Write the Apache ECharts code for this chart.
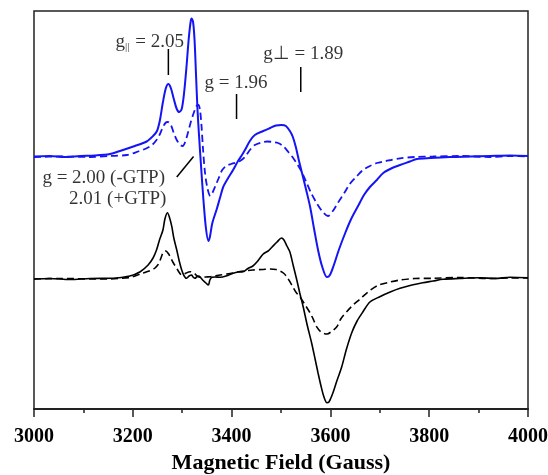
<!DOCTYPE html>
<html>
<head>
<meta charset="utf-8">
<script src="https://cdn.jsdelivr.net/npm/echarts@6/dist/echarts.min.js"></script>
<style>html,body{margin:0;padding:0;background:#fff;}#c{width:548px;height:475px;}</style>
</head>
<body>
<div id="c"></div>
<script>
// Field values (Gauss) and intensities relative to each trace's baseline (a.u.)
const blueSolidField = [3000,3032,3063,3093,3123,3154,3174,3204,3228,3241,3249,3255,3261,3267,3272,3277,3283,3289,3294,3299,3304,3309,3313,3317,3319,3322,3325,3328,3331,3334,3338,3343,3348,3353,3356,3361,3370,3377,3383,3393,3403,3413,3421,3427,3437,3447,3464,3478,3490,3501,3510,3518,3524,3530,3536,3542,3551,3559,3567,3575,3583,3593,3599,3607,3617,3630,3642,3656,3668,3680,3694,3707,3725,3741,3761,3775,3802,3842,3883,3923,3964,4000];
const blueSolidValue = [0,0.5,-0.5,0.5,1,2.5,5.5,10.5,15,20.5,25.5,36.5,54.5,68.5,72.5,68.5,57.5,47.5,44.5,47.5,64.5,91.5,116.5,134.5,138,134.5,116.5,81.5,46.5,21.5,-8.5,-43.5,-71.5,-84.5,-80.5,-66.5,-52.5,-40.5,-30.5,-21.5,-13.5,-4.5,1.5,6.5,15.5,21.5,25.5,28.5,31,31.5,30.5,25.5,19.5,9.5,-3.5,-15.5,-33.5,-50.5,-72.5,-93.5,-109.5,-120.5,-118.5,-108.5,-93.5,-76.5,-62.5,-49.5,-38.5,-30.5,-23.5,-16.5,-11.5,-8.5,-5,-2.5,-1.5,-0.5,0,0.5,1,0.5];

const blueDashField = [3000,3053,3113,3154,3188,3211,3228,3239,3248,3255,3261,3267,3271,3277,3283,3289,3296,3301,3306,3312,3318,3324,3329,3333,3336,3339,3342,3346,3351,3357,3362,3368,3374,3381,3389,3399,3409,3417,3427,3437,3447,3460,3472,3484,3494,3504,3514,3524,3534,3543,3552,3561,3572,3583,3595,3605,3615,3628,3640,3652,3666,3680,3694,3707,3723,3741,3771,3808,3862,3923,3964,4000];
const blueDashValue = [-0.5,0,-0.5,0.5,1.5,5,8.2,11.5,16.5,22.5,29.5,34,34.5,31.5,23.5,16.5,11.5,10.5,14.5,24.5,35.5,44.5,50.5,51.5,46.5,31.5,8.5,-15.5,-31.5,-39.5,-35.5,-28.5,-21.5,-13.5,-9.5,-7.5,-6,-4.5,-0.5,6.5,11.5,14,15,14.5,13.5,10.5,5,-1,-8.5,-16.5,-26.5,-36.5,-46.5,-54.5,-59.5,-54.5,-46.5,-36.5,-27,-20.5,-13.5,-9.5,-6.5,-5,-3.5,-1.8,-0.5,0,0.5,-0.5,0.5,0];

const blackSolidField = [3000,3032,3073,3113,3160,3194,3215,3231,3241,3248,3254,3261,3265,3270,3274,3279,3283,3289,3294,3299,3304,3309,3314,3319,3322,3326,3330,3334,3338,3343,3348,3353,3356,3360,3366,3377,3389,3403,3413,3423,3433,3443,3453,3464,3474,3482,3492,3501,3506,3512,3518,3525,3532,3538,3545,3553,3562,3569,3575,3581,3587,3593,3597,3601,3605,3613,3623,3632,3643,3654,3666,3680,3700,3721,3741,3765,3787,3808,3828,3862,3903,3933,3964,4000];
const blackSolidValue = [-0.5,0,-1,0,0.2,2.5,6.8,13.5,20.5,28.5,38.5,48.5,59.5,65.8,61.5,51.8,40.5,28.5,17.5,8.5,2.5,0.2,2.5,3.5,1.5,0.2,2,2.5,0.5,-2.2,-4.5,-6.5,-1.5,1.2,1.5,1.2,2.5,5.2,6.5,6.8,10,12.5,17.5,24.5,27.5,31.5,36.5,40.5,38.5,32.5,26.5,12.5,-1.5,-14.5,-28.5,-46.5,-64.5,-80.5,-94.5,-107.5,-118.5,-124.2,-123.5,-119.5,-114.5,-102.5,-88.2,-71.5,-54.5,-42.5,-33.2,-23.5,-18.2,-13.5,-9.8,-6.5,-4.2,-2.5,-0.8,0,0.7,0,1.2,0.7];

const blackDashField = [3000,3053,3134,3194,3218,3238,3245,3252,3257,3262,3267,3271,3275,3281,3289,3294,3299,3306,3316,3324,3330,3338,3348,3360,3377,3397,3417,3443,3462,3478,3490,3498,3506,3512,3518,3524,3530,3538,3549,3559,3566,3572,3581,3593,3601,3613,3621,3633,3646,3660,3676,3696,3721,3741,3771,3808,3862,3923,3964,4000];
const blackDashValue = [-0.5,0,-0.5,1,5,8.5,10.5,14.5,20.5,26.5,27.5,25.5,22.5,16.5,10.2,6,3.5,5,6.8,5.5,2.5,1,1.5,2,3.5,5,7,8.5,9,9.5,9,7.5,5,1.5,-3.2,-8.5,-13.5,-18.2,-26.5,-34.5,-41.5,-48.2,-53.5,-55.5,-53.5,-48.2,-40.5,-33.2,-26.5,-20.5,-13.5,-7,-3.5,-1.5,0,0.2,1,0,0.5,0.5];

// vertical offsets of the two stacked spectra
const blueOffset = 252.5;
const blackOffset = 130.5;

// annotation tick marks: field, top, bottom
const markerField = [3272, 3410, 3540];
const markerTop = [360, 315, 342];
const markerBottom = [334, 290, 317];
// slanted pointer for g = 2.00 / 2.01
const pointerField = [3289, 3323];
const pointerValue = [232, 252.5];

// annotation texts
const leftLabels = [
  {text: '{g|g}{s|||}{g| = 2.05}', field: 3164, value: 367},
  {text: '{g|g = 1.96}', field: 3344, value: 325.5},
  {text: '{g|g⊥ = 1.89}', field: 3463, value: 355},
  {text: '{g|g = 2.00 (-GTP)}', field: 3016, value: 231}
];
const rightLabels = [
  {text: '{g|2.01 (+GTP)}', field: 3269, value: 210}
];

const xTicks = [3000, 3200, 3400, 3600, 3800, 4000];

function pairs(fx, fy, off) { return fx.map((x, i) => [x, fy[i] + off]); }

const BLUE = '#1414f5';
const serif = '"Liberation Serif", "Times New Roman", serif';
const rich = {
  g: {fontFamily: serif, fontSize: 19, color: '#000'},
  s: {fontFamily: serif, fontSize: 11, color: '#000', padding: [10, 1, 0, 0]}
};

const series = [
  {type: 'line', data: pairs(blueSolidField, blueSolidValue, blueOffset), showSymbol: false, smooth: 0.3,
   lineStyle: {color: BLUE, width: 2}, z: 3},
  {type: 'line', data: pairs(blueDashField, blueDashValue, blueOffset), showSymbol: false, smooth: 0.3,
   lineStyle: {color: BLUE, width: 1.8, type: [7, 4]}, z: 2},
  {type: 'line', data: pairs(blackSolidField, blackSolidValue, blackOffset), showSymbol: false, smooth: 0.3,
   lineStyle: {color: '#000', width: 1.6}, z: 3},
  {type: 'line', data: pairs(blackDashField, blackDashValue, blackOffset), showSymbol: false, smooth: 0.3,
   lineStyle: {color: '#000', width: 1.6, type: [7, 4]}, z: 2}
];
markerField.forEach((f, i) => {
  series.push({type: 'line', data: [[f, markerTop[i]], [f, markerBottom[i]]], showSymbol: false,
    lineStyle: {color: '#000', width: 1.5}, silent: true});
});
series.push({type: 'line', data: pointerField.map((f, i) => [f, pointerValue[i]]), showSymbol: false,
  lineStyle: {color: '#000', width: 1.5}, silent: true});
series.push({type: 'scatter', symbolSize: 1, itemStyle: {color: 'rgba(0,0,0,0)'}, silent: true,
  data: leftLabels.map(l => ({value: [l.field, l.value], label: {formatter: l.text}})),
  label: {show: true, position: 'right', distance: 0, rich: rich}});
series.push({type: 'scatter', symbolSize: 1, itemStyle: {color: 'rgba(0,0,0,0)'}, silent: true,
  data: rightLabels.map(l => ({value: [l.field, l.value], label: {formatter: l.text}})),
  label: {show: true, position: 'left', distance: 0, rich: rich}});

const chart = echarts.init(document.getElementById('c'), null, {renderer: 'canvas'});
chart.setOption({
  animation: false,
  backgroundColor: '#fff',
  grid: {left: 34, right: 20, top: 11, bottom: 66, containLabel: false, outerBoundsMode: 'none',
    show: true, borderColor: '#222', borderWidth: 1.5},
  xAxis: {
    type: 'value', min: xTicks[0], max: xTicks[xTicks.length - 1], interval: 200,
    name: 'Magnetic Field (Gauss)', nameLocation: 'middle', nameGap: 43,
    nameTextStyle: {fontFamily: serif, fontWeight: 'bold', fontSize: 22, color: '#000'},
    axisLine: {lineStyle: {color: '#222', width: 2}},
    axisTick: {show: true, inside: false, length: 8, lineStyle: {color: '#222', width: 1.5}},
    minorTick: {show: true, splitNumber: 2, length: 4, lineStyle: {color: '#222', width: 1.5}},
    splitLine: {show: false},
    axisLabel: {fontFamily: serif, fontWeight: 'bold', fontSize: 20, color: '#000', margin: 18,
      formatter: v => String(v)}
  },
  yAxis: {type: 'value', min: 0, max: 398, show: false, splitLine: {show: false}},
  series: series
});
</script>
</body>
</html>
